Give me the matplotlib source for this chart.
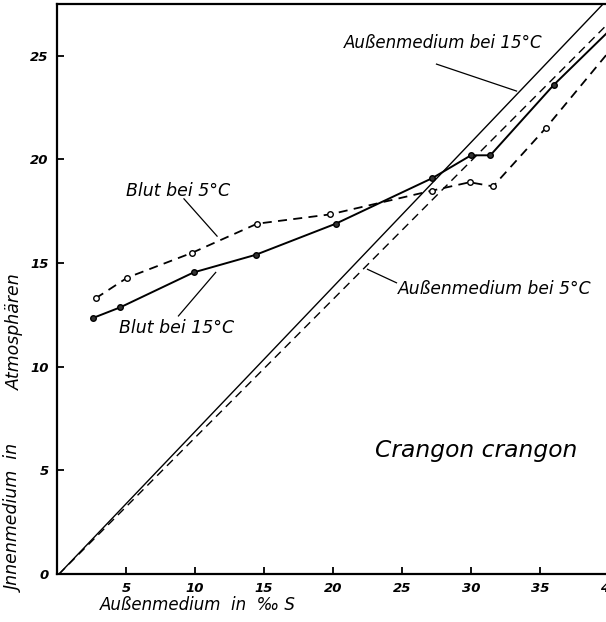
import matplotlib.pyplot as plt
import numpy as np

# Salzgehalt des Außenmediums (‰ S) und osmotischer Druck (Atm.)
salz_15 = [2.6, 4.6, 9.9, 14.4, 20.2, 27.2, 30.0, 31.4, 36.0, 40.0]
blut_15 = [12.35, 12.87, 14.55, 15.4, 16.9, 19.1, 20.2, 20.2, 23.6, 26.2]

salz_5 = [2.8, 5.1, 9.8, 14.5, 19.8, 27.2, 29.9, 31.6, 35.4, 40.0]
blut_5 = [13.3, 14.3, 15.5, 16.9, 17.35, 18.5, 18.9, 18.7, 21.5, 25.2]

# Außenmedium: Gerade durch den Nullpunkt
medium_s = [0.15, 40.0]
medium_15 = [0.0, 27.8]
medium_5 = [0.0, 26.6]

x_ticks = [5, 10, 15, 20, 25, 30, 35, 40]
y_ticks = [0, 5, 10, 15, 20, 25]

plt.rcParams['font.family'] = 'DejaVu Sans'

fig = plt.figure(figsize=(6.06, 6.22), dpi=100)
ax = fig.add_axes([57 / 606, 48 / 622, 552 / 606, 570 / 622])

ax.plot(medium_s, medium_15, color='black', lw=1.0)
ax.plot(medium_s, medium_5, color='black', lw=1.0, ls=(0, (6, 4)))

ax.plot(salz_15, blut_15, color='black', lw=1.4, marker='o', ms=4,
        mfc='#333333', mec='black', mew=1.0)
ax.plot(salz_5, blut_5, color='black', lw=1.3, ls=(0, (5, 3.5)),
        marker='o', ms=4, mfc='white', mec='black', mew=1.0)

ax.set_xlim(0, 40)
ax.set_ylim(0, 27.5)
ax.set_xticks(x_ticks)
ax.set_yticks(y_ticks)
ax.tick_params(direction='in', length=5, width=1.3, labelsize=9.5,
               pad=6)
for lab in ax.get_xticklabels() + ax.get_yticklabels():
    lab.set_style('italic')
    lab.set_fontweight('bold')

for side in ['left', 'bottom', 'top']:
    ax.spines[side].set_linewidth(1.6)
ax.spines['right'].set_visible(False)

# Beschriftungen mit Hinweisstrichen
txt = dict(fontsize=12, style='italic', ha='center', va='center')
ax.text(28.0, 25.6, 'Außenmedium bei 15°C', **txt)
ax.plot([27.5, 33.3], [24.6, 23.3], color='black', lw=0.9)

ax.text(31.7, 13.75, 'Außenmedium bei 5°C', fontsize=12.3, style='italic',
        ha='center', va='center')
ax.plot([22.5, 24.6], [14.7, 14.05], color='black', lw=0.9)

ax.text(8.8, 18.5, 'Blut bei 5°C', fontsize=12.5, style='italic',
        ha='center', va='center')
ax.plot([9.2, 11.6], [18.1, 16.3], color='black', lw=0.9)

ax.text(8.7, 11.85, 'Blut bei 15°C', fontsize=12.5, style='italic',
        ha='center', va='center')
ax.plot([11.5, 8.8], [14.55, 12.45], color='black', lw=0.9)

ax.text(30.4, 5.95, 'Crangon crangon', fontsize=16.8, style='italic',
        ha='center', va='center')

ax.set_xlabel('Außenmedium  in  ‰ S', fontsize=12, style='italic')
ax.xaxis.set_label_coords(0.078, -0.038)
ax.xaxis.label.set_horizontalalignment('left')

# Achsentitel links, zweiteilig wie im Original gesetzt
ylab = dict(fontsize=12.5, style='italic', rotation=90,
            ha='center', va='bottom')
fig.text(15 / 606, 1 - 592 / 622, 'Jnnenmedium  in', **ylab)
fig.text(15 / 606, 1 - 390 / 622, 'Atmosphären', **ylab)

fig.savefig('out.png', dpi=100)
